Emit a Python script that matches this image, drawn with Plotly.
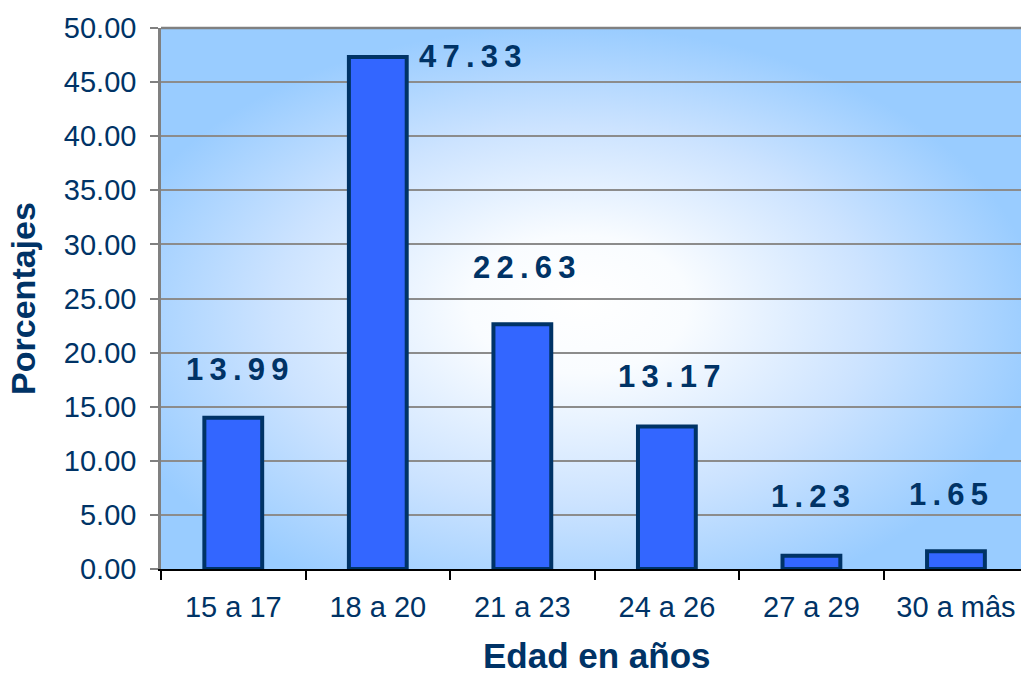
import base64
import plotly.graph_objects as go

categories = ["15 a 17", "18 a 20", "21 a 23", "24 a 26", "27 a 29", "30 a mâs"]
porcentajes = [13.99, 47.33, 22.63, 13.17, 1.23, 1.65]
y_tick_values = [0, 5, 10, 15, 20, 25, 30, 35, 40, 45, 50]

x_title = "Edad en años"
y_title = "Porcentajes"

# label placement styles (pixel offsets relative to each bar top)
label_yshift = [48, 0, 57, 50, 59, 57]
label_xshift = [4, 39, 2, 2, -1, -7]
label_xanchor = ["center", "left", "center", "center", "center", "center"]

NAVY = "#003366"
FONT = "Arial, Liberation Sans, Helvetica, sans-serif"

svg = """<svg xmlns='http://www.w3.org/2000/svg' width='861' height='541' viewBox='0 0 861 541' preserveAspectRatio='none'>
<defs><radialGradient id='g' cx='0.47' cy='0.55' r='0.58' fx='0.49' fy='0.5'>
<stop offset='0' stop-color='#ffffff'/>
<stop offset='0.22' stop-color='#f9fcff'/>
<stop offset='0.6' stop-color='#cce3ff'/>
<stop offset='0.95' stop-color='#99ccff'/>
<stop offset='1' stop-color='#99ccff'/>
</radialGradient></defs>
<rect x='0' y='0' width='861' height='541' fill='url(#g)'/>
</svg>"""
bg_src = "data:image/svg+xml;base64," + base64.b64encode(svg.encode()).decode()

fig = go.Figure()
fig.add_trace(go.Bar(
    x=categories, y=porcentajes, width=0.4,
    marker=dict(color="#3366FF", line=dict(color=NAVY, width=4)),
    hoverinfo="x+y",
))

for i, (c, v) in enumerate(zip(categories, porcentajes)):
    fig.add_annotation(
        x=c, y=v, text="\u2009".join(f"{v:.2f}"), showarrow=False,
        xanchor=label_xanchor[i], yanchor="middle",
        xshift=label_xshift[i], yshift=label_yshift[i],
        font=dict(family=FONT, size=31, color=NAVY, weight="bold"),
    )

# x-axis title (placed as annotation so it can sit near the bottom edge)
fig.add_annotation(
    x=0.5, y=0, xref="paper", yref="paper", text=x_title, showarrow=False,
    xanchor="center", yanchor="middle", xshift=6, yshift=-86,
    font=dict(family=FONT, size=35, color=NAVY, weight="bold"),
)

fig.add_layout_image(dict(
    source=bg_src, xref="paper", yref="paper", x=0, y=1, sizex=1, sizey=1,
    xanchor="left", yanchor="top", sizing="stretch", layer="below",
))

fig.add_shape(type="line", xref="paper", yref="paper", x0=0, x1=1, y0=1, y1=1,
              line=dict(color="#808080", width=2.5))

fig.update_layout(
    width=1021, height=677,
    margin=dict(l=161, r=0, t=28, b=108),
    paper_bgcolor="white", plot_bgcolor="rgba(0,0,0,0)",
    showlegend=False,
    font=dict(family=FONT, color=NAVY),
    xaxis=dict(
        type="category", range=[-0.5, 5.45], tickson="boundaries",
        ticks="outside", ticklen=9, tickcolor="black", tickwidth=1.5,
        showline=True, linecolor="black", linewidth=1.5, showgrid=False,
        tickfont=dict(size=29, color=NAVY), ticklabelstandoff=11,
    ),
    yaxis=dict(
        range=[0, 50], tickvals=y_tick_values, tickformat=".2f",
        ticks="outside", ticklen=8, tickcolor="#808080", tickwidth=1.5,
        showline=True, linecolor="#808080", linewidth=2.5,
        showgrid=True, gridcolor="#8c8c8c", gridwidth=1.5, zeroline=False,
        tickfont=dict(size=29, color=NAVY), ticklabelstandoff=8,
        title=dict(text=y_title, font=dict(size=34, color=NAVY, weight="bold"), standoff=18),
    ),
)

fig.write_html("out.html", config={"displayModeBar": False},
               post_script="document.body.style.margin='0';")
